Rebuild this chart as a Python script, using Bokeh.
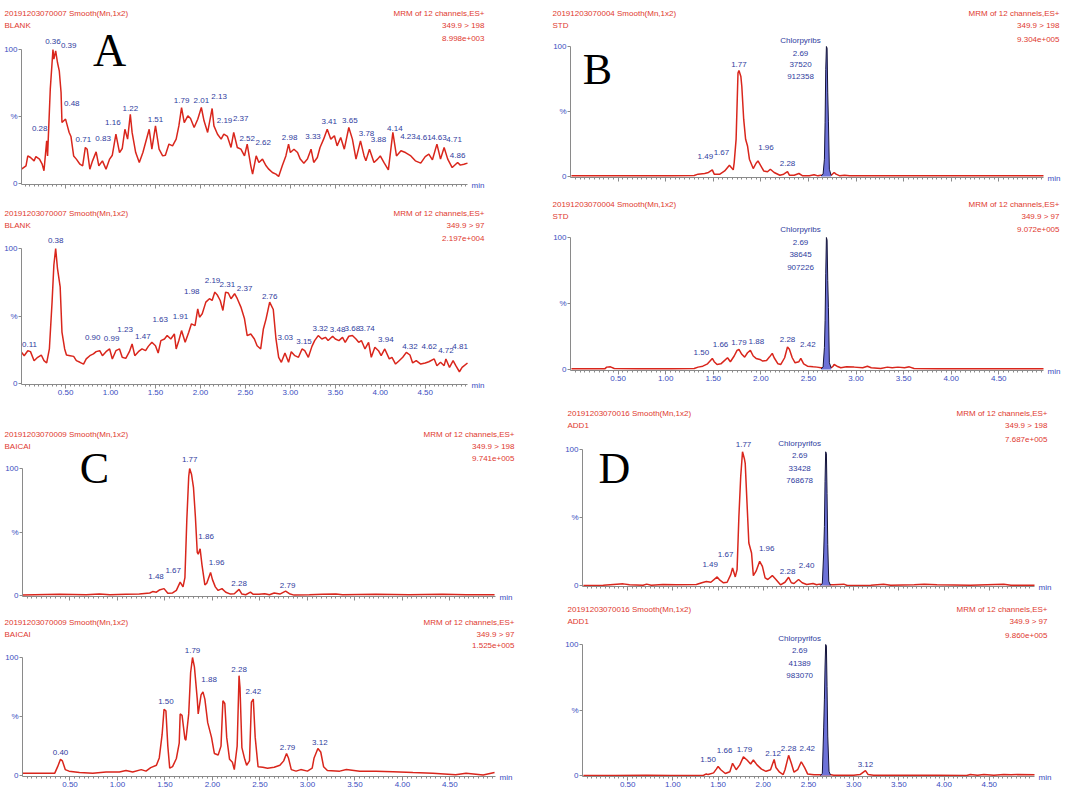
from bokeh.plotting import figure
from bokeh.models import (ColumnDataSource, LabelSet, Label, FixedTicker, Range1d, LinearAxis,
                          CustomJSTickFormatter)
from bokeh.core.properties import value
from bokeh.layouts import column, row
from bokeh.embed import file_html
from bokeh.resources import INLINE

# ---------------- data (time in min, intensity in %) ----------------
A1_trace = [(0.01,10.7),(0.06,13.2),(0.08,20.6),(0.11,19.4),(0.15,16.9),(0.17,20.1),(0.21,18.2),(0.24,14.4),
    (0.26,9.5),(0.29,31.8),(0.30,20.6),(0.33,70.4),(0.36,100),(0.37,92.8),(0.39,99.0),(0.41,90.3),(0.43,84.1),
    (0.45,67.9),(0.46,45.5),(0.48,46.8),(0.50,48.0),(0.52,43.0),(0.54,38.1),(0.56,35.1),(0.59,20.6),(0.62,18.2),
    (0.66,14.4),(0.69,13.2),(0.72,26.9),(0.74,25.6),(0.77,10.7),(0.80,16.9),(0.84,23.6),(0.87,13.2),(0.91,16.9),
    (0.95,10.7),(0.99,18.2),(1.02,21.1),(1.06,36.8),(1.10,23.1),(1.13,26.1),(1.16,40.5),(1.19,33.1),(1.22,51.7),
    (1.24,38.1),(1.28,23.1),(1.32,15.7),(1.36,23.1),(1.39,30.6),(1.43,40.5),(1.46,25.6),(1.50,43.0),(1.54,25.6),
    (1.58,20.6),(1.61,21.1),(1.65,29.4),(1.69,28.1),(1.73,33.1),(1.76,43.0),(1.79,56.7),(1.82,45.5),(1.86,50.5),
    (1.89,48.5),(1.93,41.8),(1.97,48.0),(2.01,56.7),(2.04,46.8),(2.08,38.1),(2.13,56.0),(2.15,43.0),(2.19,36.8),
    (2.23,33.1),(2.26,36.8),(2.30,35.1),(2.34,26.9),(2.37,38.1),(2.41,26.9),(2.45,25.6),(2.49,20.6),(2.52,29.4),
    (2.56,13.2),(2.58,7.0),(2.62,20.6),(2.65,15.7),(2.69,18.2),(2.73,13.2),(2.76,10.7),(2.80,8.2),(2.84,7.0),
    (2.87,5.2),(2.91,13.2),(2.95,20.6),(2.98,29.4),(3.00,23.1),(3.04,25.6),(3.08,23.1),(3.11,18.2),(3.15,15.2),
    (3.19,18.2),(3.23,25.6),(3.26,15.7),(3.30,19.4),(3.33,26.9),(3.37,33.1),(3.41,40.5),(3.45,33.1),(3.49,35.6),
    (3.52,28.1),(3.56,34.3),(3.60,25.6),(3.65,41.8),(3.69,33.1),(3.73,18.2),(3.78,31.8),(3.82,20.6),(3.84,16.9),
    (3.88,25.6),(3.93,15.7),(3.97,18.2),(4.00,20.6),(4.04,15.7),(4.09,10.2),(4.14,38.1),(4.18,20.6),(4.23,24.4),
    (4.28,23.1),(4.34,20.6),(4.39,16.9),(4.45,15.2),(4.50,20.1),(4.54,21.9),(4.58,17.7),(4.63,29.4),(4.67,18.2),
    (4.71,26.9),(4.75,18.2),(4.80,11.9),(4.86,15.7),(4.89,13.7),(4.93,14.4),(4.97,15.2)]
A1_lab = ["0.28","0.36","0.39","0.48","0.71","0.83","1.16","1.22","1.51","1.79","2.01","2.13","2.19","2.37",
          "2.52","2.62","2.98","3.33","3.41","3.65","3.78","3.88","4.14","4.23","4.61","4.63","4.71","4.86"]
A1_lab_t = [0.29,0.36,0.39,0.48,0.72,0.84,1.16,1.22,1.50,1.79,2.01,2.13,2.19,2.37,2.52,2.62,2.98,3.33,3.41,
            3.65,3.78,3.88,4.14,4.23,4.54,4.63,4.71,4.86]
A1_lab_h = [31.8,100,99.0,46.8,26.9,23.6,40.5,51.7,43.0,56.7,56.7,56.0,36.8,38.1,29.4,20.6,29.4,26.9,40.5,
            41.8,31.8,25.6,38.1,24.4,21.9,29.4,26.9,15.7]

A2_trace = [(0.01,23.1),(0.04,20.6),(0.08,24.3),(0.11,23.6),(0.15,16.9),(0.19,19.4),(0.23,21.1),(0.26,16.9),
    (0.29,15.2),(0.32,25.6),(0.35,60.4),(0.37,87.8),(0.39,100),(0.41,85.3),(0.44,71.6),(0.46,38.1),(0.49,25.6),
    (0.51,21.1),(0.55,20.6),(0.59,20.1),(0.62,16.9),(0.66,15.7),(0.70,14.4),(0.73,18.2),(0.77,20.6),(0.81,21.9),
    (0.84,23.6),(0.88,24.3),(0.91,20.6),(0.95,23.6),(0.99,25.6),(1.02,18.2),(1.06,24.3),(1.10,25.6),(1.13,19.4),
    (1.17,18.6),(1.21,23.6),(1.24,29.3),(1.27,20.6),(1.31,23.6),(1.35,25.6),(1.39,24.3),(1.42,27.5),(1.46,30.5),
    (1.50,28.0),(1.53,22.6),(1.56,31.8),(1.60,33.0),(1.63,35.5),(1.67,33.0),(1.71,36.7),(1.73,25.6),(1.76,31.8),
    (1.79,39.2),(1.83,30.5),(1.87,38.0),(1.90,44.2),(1.94,42.9),(1.97,55.3),(1.99,49.1),(2.02,51.6),(2.06,60.3),
    (2.10,62.8),(2.13,61.5),(2.16,67.7),(2.19,65.3),(2.22,61.5),(2.25,54.1),(2.28,67.7),(2.31,67.0),(2.34,62.8),
    (2.38,66.5),(2.41,62.8),(2.45,56.6),(2.49,47.9),(2.52,35.5),(2.56,36.7),(2.60,33.0),(2.63,28.0),(2.67,25.6),
    (2.70,40.4),(2.73,47.9),(2.77,60.3),(2.81,54.8),(2.84,33.0),(2.87,19.4),(2.90,15.7),(2.94,22.6),(2.98,15.7),
    (3.01,23.6),(3.05,20.6),(3.09,19.4),(3.13,25.6),(3.16,24.3),(3.20,19.4),(3.24,27.5),(3.27,31.8),(3.31,35.5),
    (3.35,33.0),(3.39,34.2),(3.42,31.8),(3.47,35.0),(3.50,33.0),(3.54,31.8),(3.58,34.2),(3.61,30.5),(3.65,35.0),
    (3.69,35.5),(3.73,33.0),(3.76,30.5),(3.79,31.8),(3.83,25.6),(3.87,30.5),(3.90,19.4),(3.94,26.8),(3.98,24.3),
    (4.01,20.6),(4.05,25.6),(4.10,18.2),(4.13,19.4),(4.17,14.4),(4.21,16.9),(4.25,19.4),(4.29,23.1),(4.33,21.1),
    (4.36,15.2),(4.40,16.9),(4.45,14.4),(4.50,15.2),(4.54,16.1),(4.60,18.2),(4.63,13.2),(4.67,15.7),(4.71,13.2),
    (4.73,18.2),(4.77,11.9),(4.81,16.9),(4.84,13.2),(4.88,8.7),(4.91,11.9),(4.97,15.2)]
A2_lab = ["0.11","0.38","0.90","0.99","1.23","1.47","1.63","1.91","1.98","2.19","2.31","2.37","2.76","3.03",
          "3.15","3.32","3.48","3.68","3.74","3.94","4.32","4.62","4.72","4.81"]
A2_lab_t = [0.11,0.39,0.88,0.99,1.24,1.46,1.63,1.90,1.97,2.19,2.31,2.38,2.77,3.01,3.13,3.31,3.47,3.69,3.73,
            3.94,4.33,4.60,4.73,4.81]
A2_lab_h = [23.6,100,24.3,25.6,29.3,30.5,35.5,44.2,55.3,65.3,67.0,66.5,60.3,23.6,25.6,35.5,35.0,35.5,33.0,
            26.8,21.1,18.2,18.2,16.9]

C1_trace = [(0.00,0.3),(0.39,0.9),(0.67,0.6),(0.81,1.1),(0.92,0.6),(1.09,0.9),(1.23,1.1),(1.34,2.0),(1.37,3.1),
    (1.41,2.6),(1.44,4.3),(1.49,5.4),(1.53,1.7),(1.58,2.0),(1.62,4.0),(1.66,10.5),(1.69,6.8),(1.71,14.0),
    (1.73,59.5),(1.75,93.7),(1.76,100),(1.78,95.2),(1.80,85.2),(1.82,62.4),(1.84,33.9),(1.85,32.5),(1.87,36.8),
    (1.89,23.9),(1.92,8.3),(1.94,9.7),(1.98,18.2),(2.00,12.5),(2.03,6.8),(2.06,4.0),(2.10,5.4),(2.14,2.6),
    (2.19,1.1),(2.23,1.4),(2.28,4.8),(2.31,1.1),(2.35,0.6),(2.40,2.6),(2.43,0.9),(2.49,0.9),(2.55,1.4),
    (2.60,0.6),(2.65,2.0),(2.71,1.1),(2.77,3.4),(2.81,1.4),(2.86,0.3),(3.02,0.6),(3.16,0.9),(3.30,1.1),
    (3.37,0.6),(3.72,0.9),(4.07,0.6),(4.42,0.9),(4.67,0.6),(4.97,0.6)]
C1_lab = ["1.48","1.67","1.77","1.86","1.96","2.28","2.79"]
C1_lab_t = [1.49,1.66,1.76,1.87,1.98,2.28,2.77]
C1_lab_h = [5.4,10.5,100,36.8,18.2,4.8,3.4]

C2_trace = [(0.00,2.0),(0.21,2.0),(0.34,2.0),(0.37,7.5),(0.40,13.7),(0.42,12.4),(0.45,5.0),(0.49,3.7),(0.60,2.5),
    (0.74,2.0),(0.88,3.0),(1.02,3.0),(1.09,4.2),(1.16,3.0),(1.25,5.0),(1.30,3.7),(1.35,6.7),(1.41,8.7),
    (1.44,14.9),(1.47,34.8),(1.49,56.0),(1.51,54.7),(1.53,24.9),(1.55,6.2),(1.58,7.5),(1.62,14.4),(1.65,27.4),
    (1.66,52.2),(1.68,51.0),(1.71,31.1),(1.72,29.9),(1.75,52.2),(1.77,87.1),(1.79,100),(1.81,92.0),(1.84,64.7),
    (1.85,52.2),(1.88,68.4),(1.90,70.9),(1.92,64.7),(1.95,44.8),(1.99,32.3),(2.02,18.7),(2.06,17.4),(2.09,24.9),
    (2.11,63.4),(2.13,61.0),(2.15,32.3),(2.18,13.7),(2.21,11.2),(2.23,5.0),(2.26,24.9),(2.28,84.6),(2.29,74.6),
    (2.31,23.6),(2.34,13.7),(2.36,8.7),(2.39,12.4),(2.41,62.2),(2.43,64.7),(2.45,32.3),(2.48,7.5),(2.53,7.0),
    (2.58,6.2),(2.65,7.0),(2.71,8.7),(2.75,12.4),(2.78,18.7),(2.80,14.9),(2.83,5.0),(2.88,3.7),(2.93,5.0),
    (3.00,3.7),(3.05,6.2),(3.07,14.9),(3.11,22.9),(3.14,19.9),(3.17,7.5),(3.21,4.2),(3.34,3.7),(3.41,5.0),
    (3.55,3.7),(3.72,3.7),(3.90,3.2),(4.11,2.5),(4.32,2.0),(4.56,0.7),(4.67,2.0),(4.85,0.5),(4.97,2.5)]
C2_lab = ["0.40","1.50","1.79","1.88","2.28","2.42","2.79","3.12"]
C2_lab_t = [0.40,1.50,1.79,1.88,2.28,2.43,2.78,3.11]
C2_lab_h = [13.7,56.0,100,68.4,84.6,64.7,18.7,22.9]

B1_trace = [(0.01,0.5),(0.36,0.5),(0.71,0.5),(1.06,0.5),(1.30,0.8),(1.34,1.8),(1.41,2.3),(1.45,3.1),(1.49,5.1),
    (1.51,1.8),(1.57,1.8),(1.62,4.3),(1.67,8.7),(1.71,5.1),(1.72,10.7),(1.74,28.6),(1.76,79.6),(1.77,81.6),
    (1.79,77.0),(1.80,69.4),(1.82,43.9),(1.84,28.6),(1.86,23.5),(1.88,13.3),(1.92,6.1),(1.95,10.2),(1.97,12.0),
    (2.00,8.2),(2.03,4.3),(2.07,3.6),(2.10,5.6),(2.14,3.1),(2.20,1.0),(2.24,1.8),(2.28,3.8),(2.30,1.0),
    (2.35,1.0),(2.40,2.3),(2.44,0.5),(2.51,0.5),(2.56,1.3),(2.60,0.5),(2.63,1.0),(2.74,1.0),(2.77,3.1),
    (2.79,1.8),(2.83,0.5),(2.88,1.0),(2.93,0.5),(3.16,0.5),(3.86,0.5),(4.97,0.5)]
B1_peak = [(2.633,0.5),(2.654,1.8),(2.668,13.3),(2.675,41.3),(2.682,82.1),(2.689,100),(2.696,98.7),
    (2.703,64.3),(2.710,42.6),(2.720,5.6),(2.738,1.0)]
B1_lab = ["1.49","1.67","1.77","1.96","2.28"]
B1_lab_t = [1.49,1.67,1.77,1.97,2.28]
B1_lab_h = [5.1,8.7,81.6,12.0,3.8]
B1_cpf = ["Chlorpyribs","2.69","37520","912358"]

B2_trace = [(0.01,0.5),(0.36,0.5),(0.38,1.8),(0.42,2.0),(0.46,0.8),(0.71,0.5),(1.06,0.5),(1.30,0.8),(1.34,1.8),
    (1.39,2.5),(1.44,4.3),(1.49,8.4),(1.51,5.9),(1.54,3.8),(1.58,4.3),(1.62,6.9),(1.65,8.9),(1.68,5.9),
    (1.72,10.2),(1.75,14.5),(1.77,15.3),(1.80,11.5),(1.83,9.4),(1.86,12.7),(1.89,14.5),(1.92,10.2),(1.95,8.4),
    (1.99,7.6),(2.02,6.4),(2.06,6.9),(2.09,9.4),(2.12,12.2),(2.14,8.9),(2.18,4.3),(2.21,3.8),(2.25,8.9),
    (2.28,17.0),(2.30,15.3),(2.33,8.9),(2.36,5.1),(2.40,5.9),(2.42,8.4),(2.45,4.3),(2.49,2.5),(2.55,2.0),
    (2.59,1.8),(2.63,1.3),(2.74,1.3),(2.76,2.5),(2.77,3.8),(2.80,2.5),(2.84,1.3),(2.90,2.0),(2.98,1.8),
    (3.07,1.3),(3.12,2.5),(3.16,1.3),(3.26,0.8),(3.33,1.8),(3.38,1.3),(3.44,1.8),(3.51,1.3),(3.56,2.0),
    (3.61,0.8),(3.86,0.5),(4.21,0.5),(4.97,0.5)]
B2_peak = [(2.633,0.5),(2.654,1.8),(2.668,16.5),(2.675,36.9),(2.682,72.5),(2.689,100),(2.696,98.0),
    (2.703,67.4),(2.710,47.1),(2.720,5.1),(2.738,1.3)]
B2_lab = ["1.50","1.66","1.79","1.88","2.28","2.42"]
B2_lab_t = [1.49,1.65,1.77,1.89,2.28,2.42]
B2_lab_h = [8.4,8.9,15.3,14.5,17.0,8.4]
B2_cpf = ["Chlorpyribs","2.69","38645","907226"]

D1_trace = [(0.01,0.0),(0.23,0.2),(0.38,1.0),(0.45,1.2),(0.52,0.5),(0.67,0.2),(0.71,1.0),(0.76,0.2),(0.89,0.7),
    (1.04,0.5),(1.26,0.7),(1.32,2.0),(1.37,2.9),(1.42,2.4),(1.49,6.3),(1.52,3.9),(1.56,2.0),(1.60,2.4),
    (1.64,8.0),(1.66,12.9),(1.69,6.3),(1.71,11.7),(1.73,50.7),(1.75,80.0),(1.77,98.3),(1.79,93.4),(1.80,89.8),
    (1.82,60.5),(1.84,31.2),(1.87,23.9),(1.89,7.3),(1.92,10.5),(1.96,17.8),(1.99,14.1),(2.02,5.6),(2.05,4.4),
    (2.10,7.3),(2.14,4.4),(2.19,0.5),(2.24,2.4),(2.28,6.1),(2.31,2.0),(2.34,1.5),(2.39,4.4),(2.43,2.0),
    (2.48,0.7),(2.55,1.5),(2.59,0.5),(2.62,1.0),(2.75,0.5),(2.78,0.5),(2.89,1.0),(2.93,0.0),(3.19,0.2),
    (3.33,1.0),(3.41,0.2),(3.67,0.5),(3.78,1.0),(3.92,0.5),(4.29,0.2),(4.66,1.0),(4.74,0.2),(5.00,0.2)]
D1_peak = [(2.631,0.0),(2.653,1.5),(2.668,23.9),(2.676,43.4),(2.683,76.3),(2.690,98.3),(2.698,97.1),
    (2.705,67.8),(2.713,30.0),(2.724,3.2),(2.742,0.2)]
D1_lab = ["1.49","1.67","1.77","1.96","2.28","2.40"]
D1_lab_t = [1.49,1.66,1.77,1.96,2.28,2.39]
D1_lab_h = [6.3,12.9,98.3,17.8,6.1,4.4]
D1_cpf = ["Chlorpyrifos","2.69","33428","768678"]

D2_trace = [(0.01,0.0),(0.30,0.0),(0.33,0.0),(0.36,0.0),(0.71,0.2),(0.97,0.0),(1.34,0.2),(1.37,1.2),(1.39,0.7),
    (1.45,2.0),(1.48,4.9),(1.50,6.9),(1.53,4.4),(1.58,1.5),(1.63,2.9),(1.66,9.3),(1.70,4.4),(1.74,8.1),
    (1.78,14.2),(1.82,11.8),(1.86,8.8),(1.89,11.8),(1.93,8.1),(1.98,4.9),(2.03,3.2),(2.08,4.4),(2.12,12.3),
    (2.14,6.1),(2.18,2.5),(2.22,0.7),(2.24,4.4),(2.28,15.4),(2.31,9.3),(2.34,2.5),(2.38,4.4),(2.42,10.5),
    (2.46,5.6),(2.49,1.2),(2.56,0.5),(2.62,0.5),(2.75,0.5),(2.78,0.2),(3.00,0.2),(3.07,0.7),(3.13,3.7),
    (3.16,0.7),(3.22,0.2),(3.55,0.2),(3.92,0.2),(4.25,0.0),(4.29,0.7),(4.37,0.2),(4.44,0.7),(4.55,0.2),
    (4.66,0.7),(4.74,0.5),(4.81,0.7),(5.00,0.5)]
D2_peak = [(2.631,0.0),(2.653,1.5),(2.668,36.3),(2.676,58.3),(2.683,82.8),(2.690,100),(2.698,98.8),
    (2.705,68.1),(2.713,30.1),(2.727,3.2),(2.742,0.5)]
D2_lab = ["1.50","1.66","1.79","2.12","2.28","2.42","3.12"]
D2_lab_t = [1.50,1.66,1.78,2.12,2.28,2.42,3.13]
D2_lab_h = [6.9,9.3,14.2,12.3,15.4,10.5,3.7]
D2_cpf = ["Chlorpyrifos","2.69","41389","983070"]

x_tick_values = [0.5, 1.0, 1.5, 2.0, 2.5, 3.0, 3.5, 4.0, 4.5]
y_tick_values = [0, 50, 100]
y_tick_text = {0: "0", 50: "%", 100: "100"}

# ---------------- label placement (pixels) ----------------
A1_dx = [-7,0,13,8,-2,7,-12,0,0,0,0,7,7,7,0,7,1,-7,2,1,6,9,2,7,-5,2,10,0]
A1_dy = [12,8,5,17,8,13,7,6,6,7,7,12,14,14,6,13,7,11,8,7,7,10,4,14,17,7,8,7]
A2_dx = [-1,0,-7,2,-7,-9,-7,-11,-6,-5,-1,10,0,-6,2,2,5,0,11,11,0,-5,0,7]
A2_dy = [7,8,13,10,14,6,16,7,17,15,9,5,6,14,7,7,7,7,10,8,9,12,8,14]
C1_dx = [-8,-7,0,6,6,0,2]
C1_dy = [12,12,9,12,10,6,6]
C2_dx = [0,1,0,8,0,0,1,2]
C2_dy = [7,8,7,15,6,8,6,6]
B1_dx = [-7,-8,0,8,0]
B1_dy = [13,13,6,13,8]
B2_dx = [-11,-7,0,6,0,7]
B2_dy = [6,13,7,9,8,14]
D1_dx = [-7,-7,1,7,-1,8]
D1_dy = [12,13,7,13,6,14]
D2_dx = [-10,-8,1,-1,0,6,0]
D2_dy = [7,13,7,6,7,13,6]

RED = "#d9261c"
HEAD = "#e0392f"
NAVY = "#2f3d9e"
TICKC = "#3a4cc0"
AXISC = "#8a8a8a"
FILL = "#6d72d8"
FONT = "Liberation Sans"


def make_panel(cfg):
    fl, ft, fw, fh = cfg["box"]
    axl, axr = cfg["ax"]
    y100, y0 = cfg["y"]
    x0, x1 = cfg["xr"]
    ppy = (y0 - y100) / 100.0
    ppx = (axr - axl) / (x1 - x0)
    xs = x0 - (axl - fl) / ppx
    xe = x1 + (fl + fw - axr) / ppx
    ys = -(ft + fh - y0) / ppy
    ye = 100 + (y100 - ft) / ppy
    p = figure(width=fw, height=fh, x_range=Range1d(xs, xe), y_range=Range1d(ys, ye),
               output_backend="svg", toolbar_location=None,
               x_axis_location=None, y_axis_location=None,
               min_border_left=0, min_border_right=0, min_border_top=0, min_border_bottom=0)
    p.grid.visible = False
    p.outline_line_color = None
    p.background_fill_color = "white"
    p.border_fill_color = "white"

    def dx(px):
        return x0 + (px - axl) / ppx

    def dy(py):
        return (y0 - py) / ppy

    base = -1.0 / ppy  # axis line one pixel under the zero level

    # x axis (drawn at the baseline)
    xa = LinearAxis(fixed_location=base, bounds=(x0, x1))
    xa.ticker = FixedTicker(ticks=x_tick_values,
                            minor_ticks=[round(0.05 * k, 2) for k in range(1, 100)])
    xa.formatter = CustomJSTickFormatter(code="return tick.toFixed(2)")
    xa.axis_line_color = AXISC
    xa.major_tick_line_color = AXISC
    xa.minor_tick_line_color = AXISC
    xa.major_tick_out = 4
    xa.major_tick_in = 0
    xa.minor_tick_out = 2
    xa.minor_tick_in = 0
    xa.major_label_standoff = 1
    xa.major_label_text_font = FONT
    xa.major_label_text_color = TICKC
    if cfg["xlabels"]:
        xa.major_label_text_font_size = "8px"
    else:
        xa.major_label_text_font_size = "0px"
        xa.major_label_text_alpha = 0
    p.add_layout(xa, "below")

    # y axis
    ya = LinearAxis(fixed_location=x0, bounds=(base, 100))
    ya.ticker = FixedTicker(ticks=y_tick_values)
    ya.major_label_overrides = y_tick_text
    ya.axis_line_color = AXISC
    ya.major_tick_line_color = AXISC
    ya.major_tick_out = 3
    ya.major_tick_in = 0
    ya.minor_tick_line_color = None
    ya.major_label_standoff = 1
    ya.major_label_text_font = FONT
    ya.major_label_text_font_size = "8px"
    ya.major_label_text_color = TICKC
    p.add_layout(ya, "left")

    # trace
    t, v = zip(*cfg["trace"])
    p.line(list(t), list(v), line_color=RED, line_width=1.5)
    if cfg.get("peak"):
        pt, pv = zip(*cfg["peak"])
        p.varea(x=list(pt), y1=[0] * len(pt), y2=list(pv), fill_color=FILL, fill_alpha=1.0)
        p.line(list(pt), list(pv), line_color="#15153a", line_width=1.0)

    # peak labels
    src = ColumnDataSource(dict(t=cfg["lab_t"], h=cfg["lab_h"], text=cfg["lab"],
                                dx=cfg["ldx"], dy=cfg["ldy"]))
    p.add_layout(LabelSet(x="t", y="h", text="text", x_offset="dx", y_offset="dy", source=src,
                          text_align="center", text_baseline="middle", text_font=value(FONT),
                          text_font_size=value("8px"), text_color=NAVY))
    if cfg.get("cpf"):
        lines = cfg["cpf"]
        csrc = ColumnDataSource(dict(t=[2.69] * 4, h=[100] * 4, text=lines,
                                     dx=[-26] * 4, dy=cfg["cpf_dy"]))
        p.add_layout(LabelSet(x="t", y="h", text="text", x_offset="dx", y_offset="dy", source=csrc,
                              text_align="center", text_baseline="middle", text_font=value(FONT),
                              text_font_size=value("8px"), text_color=NAVY))

    # header texts
    hl = cfg["head_left"]
    hr = cfg["head_right"]
    for txt, py in zip(cfg["left_text"], hl[1]):
        p.add_layout(Label(x=dx(hl[0]), y=dy(py), text=txt, text_align="left", text_baseline="middle",
                           text_font=FONT, text_font_size="8px", text_color=HEAD))
    for txt, py in zip(cfg["right_text"], hr[1]):
        p.add_layout(Label(x=dx(hr[0]), y=dy(py), text=txt, text_align="right", text_baseline="middle",
                           text_font=FONT, text_font_size="8px", text_color=HEAD))
    # min
    p.add_layout(Label(x=dx(axr + 4), y=dy(y0 + 2), text="min", text_align="left", text_baseline="middle",
                       text_font=FONT, text_font_size="8px", text_color=TICKC))
    # big letter
    if cfg["letter"]:
        lx, ly, ls = cfg["letter_pos"]
        p.add_layout(Label(x=dx(lx), y=dy(ly), text=cfg["letter"], text_align="center",
                           text_baseline="middle", text_font="Liberation Serif", text_font_size=ls,
                           text_color="black"))
    return p


cfgs = {
    "A1": dict(box=(8, 8, 537, 192), ax=(29, 475), y=(57, 191), xr=(0.01, 4.97), xlabels=False,
               trace=A1_trace, lab=A1_lab, lab_t=A1_lab_t, lab_h=A1_lab_h, ldx=A1_dx, ldy=A1_dy,
               head_left=(12, [21, 33]), head_right=(492, [21, 33, 46]),
               left_text=["20191203070007 Smooth(Mn,1x2)", "BLANK"],
               right_text=["MRM of 12 channels,ES+", "349.9 > 198", "8.998e+003"],
               letter="A", letter_pos=(117, 58, "46px")),
    "A2": dict(box=(8, 200, 537, 212), ax=(29, 475), y=(256, 391), xr=(0.01, 4.97), xlabels=True,
               trace=A2_trace, lab=A2_lab, lab_t=A2_lab_t, lab_h=A2_lab_h, ldx=A2_dx, ldy=A2_dy,
               head_left=(12, [221, 233]), head_right=(492, [221, 233, 246]),
               left_text=["20191203070007 Smooth(Mn,1x2)", "BLANK"],
               right_text=["MRM of 12 channels,ES+", "349.9 > 97", "2.197e+004"],
               letter="", letter_pos=(117, 258, "46px")),
    "C1": dict(box=(8, 412, 537, 199), ax=(30, 503), y=(476, 603), xr=(0.0, 4.98), xlabels=False,
               trace=C1_trace, lab=C1_lab, lab_t=C1_lab_t, lab_h=C1_lab_h, ldx=C1_dx, ldy=C1_dy,
               head_left=(12, [442, 454]), head_right=(522, [442, 454, 466]),
               left_text=["20191203070009 Smooth(Mn,1x2)", "BAICAI"],
               right_text=["MRM of 12 channels,ES+", "349.9 > 198", "9.741e+005"],
               letter="C", letter_pos=(102, 476, "44px")),
    "C2": dict(box=(8, 611, 537, 186), ax=(30, 503), y=(665, 783), xr=(0.0, 4.98), xlabels=True,
               trace=C2_trace, lab=C2_lab, lab_t=C2_lab_t, lab_h=C2_lab_h, ldx=C2_dx, ldy=C2_dy,
               head_left=(12, [630, 642]), head_right=(522, [630, 642, 653]),
               left_text=["20191203070009 Smooth(Mn,1x2)", "BAICAI"],
               right_text=["MRM of 12 channels,ES+", "349.9 > 97", "1.525e+005"],
               letter="", letter_pos=(102, 700, "44px")),
    "B1": dict(box=(545, 8, 532, 187), ax=(578, 1051), y=(54, 184), xr=(0.0, 4.97), xlabels=False,
               trace=B1_trace, peak=B1_peak, lab=B1_lab, lab_t=B1_lab_t, lab_h=B1_lab_h, ldx=B1_dx, ldy=B1_dy,
               cpf=B1_cpf, cpf_dy=[6, -7, -18, -30],
               head_left=(560, [21, 33]), head_right=(1067, [21, 33, 47]),
               left_text=["20191203070004 Smooth(Mn,1x2)", "STD"],
               right_text=["MRM of 12 channels,ES+", "349.9 > 198", "9.304e+005"],
               letter="B", letter_pos=(605, 77, "44px")),
    "B2": dict(box=(545, 195, 532, 205), ax=(578, 1051), y=(245, 377), xr=(0.0, 4.97), xlabels=True,
               trace=B2_trace, peak=B2_peak, lab=B2_lab, lab_t=B2_lab_t, lab_h=B2_lab_h, ldx=B2_dx, ldy=B2_dy,
               cpf=B2_cpf, cpf_dy=[8, -5, -17, -30],
               head_left=(560, [212, 224]), head_right=(1067, [212, 224, 237]),
               left_text=["20191203070004 Smooth(Mn,1x2)", "STD"],
               right_text=["MRM of 12 channels,ES+", "349.9 > 97", "9.072e+005"],
               letter="", letter_pos=(605, 270, "44px")),
    "D1": dict(box=(545, 400, 532, 205), ax=(590, 1042), y=(457, 593), xr=(0.0, 5.0), xlabels=False,
               trace=D1_trace, peak=D1_peak, lab=D1_lab, lab_t=D1_lab_t, lab_h=D1_lab_h, ldx=D1_dx, ldy=D1_dy,
               cpf=D1_cpf, cpf_dy=[6, -6, -19, -31],
               head_left=(575, [421, 433]), head_right=(1055, [421, 433, 447]),
               left_text=["20191203070016 Smooth(Mn,1x2)", "ADD1"],
               right_text=["MRM of 12 channels,ES+", "349.9 > 198", "7.687e+005"],
               letter="D", letter_pos=(622, 476, "44px")),
    "D2": dict(box=(545, 605, 532, 192), ax=(590, 1042), y=(652, 783), xr=(0.0, 5.0), xlabels=True,
               trace=D2_trace, peak=D2_peak, lab=D2_lab, lab_t=D2_lab_t, lab_h=D2_lab_h, ldx=D2_dx, ldy=D2_dy,
               cpf=D2_cpf, cpf_dy=[6, -6, -19, -31],
               head_left=(575, [617, 629]), head_right=(1055, [617, 629, 643]),
               left_text=["20191203070016 Smooth(Mn,1x2)", "ADD1"],
               right_text=["MRM of 12 channels,ES+", "349.9 > 97", "9.860e+005"],
               letter="", letter_pos=(622, 680, "44px")),
}

figs = {k: make_panel(c) for k, c in cfgs.items()}
left = column(figs["A1"], figs["A2"], figs["C1"], figs["C2"])
right = column(figs["B1"], figs["B2"], figs["D1"], figs["D2"])
layout = row(left, right)

open("out.html", "w").write(file_html(layout, INLINE))
